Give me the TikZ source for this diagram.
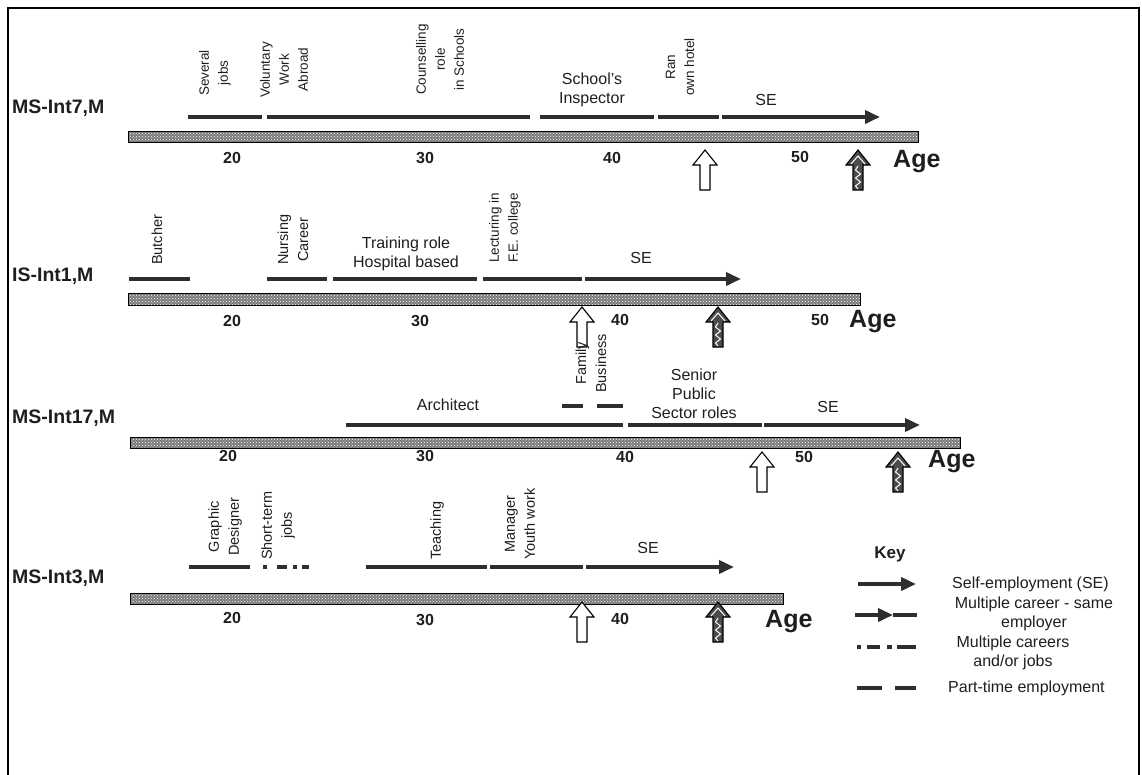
\documentclass[tikz,border=0pt]{standalone}
\usepackage{fontspec}
\setmainfont{Liberation Sans}
\usetikzlibrary{arrows.meta,patterns}
\definecolor{ink}{HTML}{1E1E1E}
\definecolor{ink2}{HTML}{2E2E2E}
\begin{document}
\begin{tikzpicture}[x=1pt,y=-1pt,
  lab/.style={font=\fontsize{16}{19}\selectfont, text=ink, align=center, inner sep=0pt},
  rlab/.style={lab, font=\fontsize{14.5}{20}\selectfont, rotate=90, anchor=west},
  rlabs/.style={rlab, font=\fontsize{13.5}{19}\selectfont},
  rowlab/.style={font=\fontsize{19.5}{21}\selectfont\bfseries, text=ink, anchor=west, inner sep=0pt},
  tick/.style={font=\fontsize{16}{18}\selectfont\bfseries, text=ink, inner sep=0pt},
  agelab/.style={font=\fontsize{25}{27}\selectfont\bfseries, text=ink, anchor=west, inner sep=0pt},
  keytxt/.style={font=\fontsize{16}{19.5}\selectfont, text=ink, align=center, inner sep=0pt},
  seg/.style={line width=3.6pt, draw=ink2},
  searrow/.style={seg, -{Triangle[length=15pt,width=13pt]}},
  bar/.style={draw=black, line width=1pt, preaction={fill=black!52}, pattern=crosshatch dots, pattern color=white},
  openup/.pic={\draw[line width=1.1pt, fill=white] (-5,40) -- (-5,15) -- (-12,15) -- (0,0) -- (12,15) -- (5,15) -- (5,40) -- cycle;},
  hatchup/.pic={\draw[line width=1.1pt, fill=black!70] (-5,40) -- (-5,15) -- (-12,15) -- (0,0) -- (12,15) -- (5,15) -- (5,40) -- cycle;
     \draw[white, line width=1pt] (-7,14) -- (0,6) -- (7,14);
     \draw[white, line width=1pt] (0,16) -- (-2.5,20) -- (2.5,24) -- (-2.5,28) -- (2.5,32) -- (-2.5,36) -- (0,39);}
]
\useasboundingbox (0,0) rectangle (1142,774);
\draw[line width=1.3pt, black] (8,780) -- (8,8) -- (1139,8) -- (1139,780);

% ---------------- Row 1 ----------------
\node[rowlab] (r1) at (12,108) {MS-Int7,M};
\draw[bar] (128,131) rectangle (918,142);
\node[tick] (r1t20) at (232,158) {20};
\node[tick] (r1t30) at (425,158) {30};
\node[tick] (r1t40) at (612,158) {40};
\node[tick] (r1t50) at (800,157) {50};
\node[agelab] (r1age) at (893,162) {Age};
\draw[seg] (188,117) -- (262,117);
\draw[seg] (267,117) -- (530,117);
\draw[seg] (540,117) -- (654,117);
\draw[seg] (658,117) -- (719,117);
\draw[searrow] (722,117) -- (880,117);
\node[rlabs] (l1a) at (215,96) {Several\\jobs};
\node[rlabs] (l1b) at (284,98) {Voluntary\\Work\\Abroad};
\node[rlabs] (l1c) at (440,95) {Counselling\\role\\in Schools};
\node[lab] (l1d) at (592,90) {School's\\Inspector};
\node[rlabs] (l1e) at (680,96) {Ran\\own hotel};
\node[lab] (l1f) at (766,100) {SE};
\pic at (705,150) {openup};
\pic at (858,150) {hatchup};

% ---------------- Row 2 ----------------
\node[rowlab] (r2) at (12,276) {IS-Int1,M};
\draw[bar] (128,293) rectangle (860,305);
\node[tick] (r2t20) at (232,321) {20};
\node[tick] (r2t30) at (420,321) {30};
\node[tick] (r2t40) at (620,320) {40};
\node[tick] (r2t50) at (820,320) {50};
\node[agelab] (r2age) at (849,322) {Age};
\draw[seg] (129,279) -- (190,279);
\draw[seg] (267,279) -- (327,279);
\draw[seg] (333,279) -- (477,279);
\draw[seg] (483,279) -- (582,279);
\draw[searrow] (585,279) -- (741,279);
\node[rlab] (l2a) at (157,265) {Butcher};
\node[rlab] (l2b) at (293,265) {Nursing\\Career};
\node[lab] (l2c) at (406,254) {Training role\\Hospital based};
\node[rlabs] (l2d) at (505,263) {Lecturing in\\F.E. college};
\node[lab] (l2e) at (641,258) {SE};
\pic at (582,307) {openup};
\pic at (718,307) {hatchup};

% ---------------- Row 3 ----------------
\node[rowlab] (r3) at (12,418) {MS-Int17,M};
\draw[bar] (130,437) rectangle (960,448);
\node[tick] (r3t20) at (228,456) {20};
\node[tick] (r3t30) at (425,456) {30};
\node[tick] (r3t40) at (625,457) {40};
\node[tick] (r3t50) at (804,457) {50};
\node[agelab] (r3age) at (928,462) {Age};
\draw[seg] (346,425) -- (623,425);
\draw[seg] (628,425) -- (762,425);
\draw[searrow] (764,425) -- (920,425);
\draw[seg] (562,406) -- (583,406);
\draw[seg] (597,406) -- (623,406);
\node[lab] (l3a) at (448,405) {Architect};
\node[rlab] (l3b) at (591,393) {Family\\Business};
\node[lab] (l3c) at (694,394) {Senior\\Public\\Sector roles};
\node[lab] (l3d) at (828,407) {SE};
\pic at (762,452) {openup};
\pic at (898,452) {hatchup};

% ---------------- Row 4 ----------------
\node[rowlab] (r4) at (12,578) {MS-Int3,M};
\draw[bar] (130,593) rectangle (783,604);
\node[tick] (r4t20) at (232,618) {20};
\node[tick] (r4t30) at (425,620) {30};
\node[tick] (r4t40) at (620,619) {40};
\node[agelab] (r4age) at (765,622) {Age};
\draw[seg] (189,567) -- (250,567);
\draw[seg] (263,567) -- (267,567);
\draw[seg] (277,567) -- (287,567);
\draw[seg] (293,567) -- (297,567);
\draw[seg] (302,567) -- (309,567);
\draw[seg] (366,567) -- (487,567);
\draw[seg] (490,567) -- (583,567);
\draw[searrow] (586,567) -- (734,567);
\node[rlab] (l4a) at (225,556) {Graphic\\Designer};
\node[rlab] (l4b) at (278,560) {Short-term\\jobs};
\node[rlab] (l4c) at (437,560) {Teaching};
\node[rlab] (l4d) at (520,560) {Manager\\Youth work};
\node[lab] (l4e) at (648,548) {SE};
\pic at (582,602) {openup};
\pic at (718,602) {hatchup};

% ---------------- Key ----------------
\node[font=\fontsize{17}{19}\selectfont\bfseries, text=ink, inner sep=0pt] (key) at (890,554) {Key};
\coordinate (k1a) at (858,584); \coordinate (k1b) at (916,584);
\draw[searrow] (k1a) -- (k1b);
\node[keytxt, anchor=west] (k1t) at (952,584) {Self-employment (SE)};
\coordinate (k2a) at (855,615); \coordinate (k2m) at (893,615); \coordinate (k2b) at (917,615);
\draw[searrow] (k2a) -- (k2m);
\draw[seg] (k2m) -- (k2b);
\node[keytxt] (k2t) at (1034,614) {Multiple career - same\\employer};
\draw[seg] (857,647) -- (861,647);
\draw[seg] (867,647) -- (880,647);
\draw[seg] (887,647) -- (892,647);
\draw[seg] (897,647) -- (916,647);
\node[keytxt] (k3t) at (1013,653) {Multiple careers\\and/or jobs};
\draw[seg] (857,688) -- (882,688);
\draw[seg] (895,688) -- (916,688);
\node[keytxt, anchor=west] (k4t) at (948,688) {Part-time employment};
\end{tikzpicture}
\end{document}
